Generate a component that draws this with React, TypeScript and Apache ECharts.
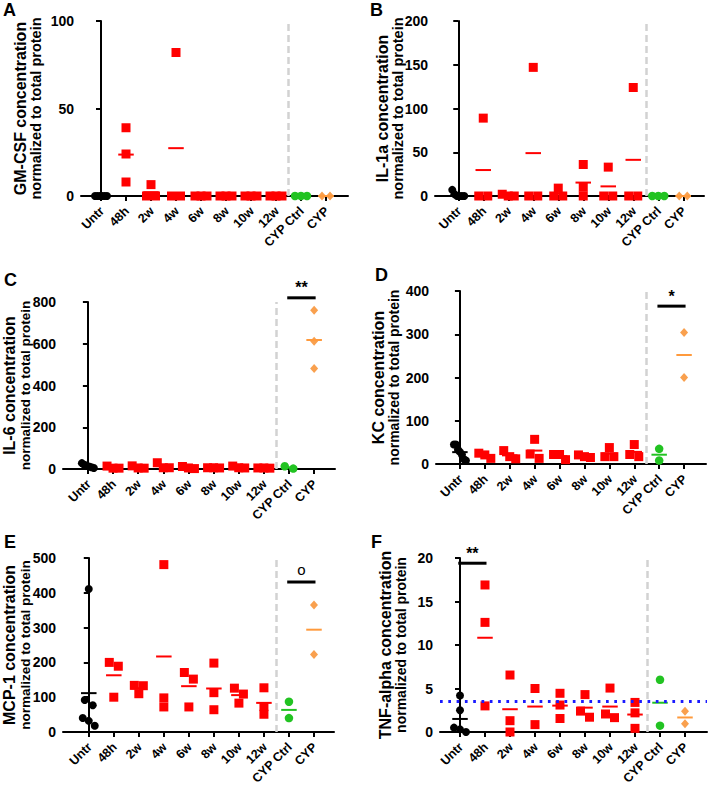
import React, { useEffect, useRef } from 'react';
import * as echarts from 'echarts';

const categories = ['Untr', '48h', '2w', '4w', '6w', '8w', '10w', '12w', 'CYP Ctrl', 'CYP'];

// Panel A: GM-CSF
const gmcsfValues = [
  [0, 0, 0, 0, 0, 0],
  [39, 24, 8],
  [6.5, 0, 0],
  [82, 0, 0],
  [0, 0, 0],
  [0, 0, 0],
  [0, 0, 0],
  [0, 0, 0],
  [0, 0, 0],
  [0, 0],
];
// Panel B: IL-1a
const il1aValues = [
  [7, 2, 0, 0, 0, 0],
  [89, 0, 0],
  [2, 0, 0],
  [147, 0, 0],
  [9, 0, 0],
  [36, 10, 0],
  [33, 0, 0],
  [124, 0, 0],
  [0, 0, 0],
  [0, 0],
];
// Panel C: IL-6
const il6Values = [
  [28, 20, 15, 12, 8, 5],
  [14, 4, 4],
  [15, 4, 5],
  [30, 6, 6],
  [12, 5, 2],
  [6, 6, 5],
  [14, 5, 6],
  [5, 5, 4],
  [2, 13],
  [760, 612, 482],
];
// Panel D: KC
const kcValues = [
  [45, 45, 33, 28, 22, 11, 8],
  [25, 13, 21],
  [31, 12, 17],
  [57, 13, 23],
  [10, 22, 22],
  [15, 21, 17],
  [38, 17, 17],
  [45, 17, 22],
  [35, 8],
  [304, 200],
];
// Panel E: MCP-1
const mcp1Values = [
  [411, 92, 77, 40, 32, 18],
  [200, 189, 100],
  [134, 133, 110],
  [481, 98, 72],
  [171, 152, 72],
  [198, 113, 64],
  [126, 109, 83],
  [127, 73, 51],
  [87, 40],
  [365, 223],
];
// Panel F: TNF-alpha
const tnfValues = [
  [4.2, 2.5, 0.5, 0.3, 0.0],
  [16.9, 12.6, 3.0],
  [6.55, 1.3, 0],
  [5.0, 0.85],
  [4.45, 3.1, 1.55],
  [4.3, 2.4, 1.7],
  [5.05, 2.07, 1.65],
  [3.4, 2.2, 0.42],
  [6.0, 0.73],
  [2.38, 0.96],
];
const tnfBaseline = 3.5;

// significance annotations: [first group, last group, level]
const sigIL6 = [[8, 9, 820]];
const sigIL6Marks = ['**'];
const sigKC = [[8, 9, 365]];
const sigKCMarks = ['*'];
const sigMCP1 = [[8, 9, 431]];
const sigMCP1Marks = ['o'];
const sigTNF = [[0, 1, 19.4]];
const sigTNFMarks = ['**'];

const FONT = '"Liberation Sans", Arial, Helvetica, sans-serif';

const colorFor = (g: number) => (g === 0 ? '#000000' : g === 8 ? '#22c322' : g === 9 ? '#f9a04e' : '#ff0000');
const meanColorFor = (g: number) => (g === 9 ? '#ff9a3c' : colorFor(g));
const symbolFor = (g: number) => (g === 0 || g === 8 ? 'circle' : g === 9 ? 'diamond' : 'rect');
const sizeFor = (g: number) => (g === 0 ? 8 : g === 8 ? 8.5 : g === 9 ? 8 : 9);

const panels = [
  {
    letter: 'A', line1: 'GM-CSF concentration', values: gmcsfValues,
    yMax: 100, yInterval: 50, grid: { left: 81, top: 21, width: 267, height: 175 }, xMin: -0.8, xMax: 9.88,
    nameGap: 37, size2: 14.5, letterPos: [3, 1], sig: [] as number[][], sigMarks: [] as string[], baseline: null as number | null,
  },
  {
    letter: 'B', line1: 'IL-1a concentration', values: il1aValues,
    yMax: 200, yInterval: 50, grid: { left: 435, top: 21, width: 269, height: 175 }, xMin: -0.93, xMax: 9.83,
    nameGap: 29, size2: 14.5, letterPos: [370, 1], sig: [], sigMarks: [], baseline: null,
  },
  {
    letter: 'C', line1: 'IL-6 concentration', values: il6Values,
    yMax: 800, yInterval: 200, grid: { left: 63, top: 302, width: 272, height: 167 }, xMin: -0.99, xMax: 9.83,
    nameGap: 30, size2: 13.5, letterPos: [4, 271], sig: sigIL6, sigMarks: sigIL6Marks, baseline: null,
  },
  {
    letter: 'D', line1: 'KC concentration', values: kcValues,
    yMax: 400, yInterval: 100, grid: { left: 436, top: 291, width: 270, height: 173 }, xMin: -0.96, xMax: 9.88,
    nameGap: 34, size2: 14, letterPos: [375, 266], sig: sigKC, sigMarks: sigKCMarks, baseline: null,
  },
  {
    letter: 'E', line1: 'MCP-1 concentration', values: mcp1Values,
    yMax: 500, yInterval: 100, grid: { left: 63, top: 558, width: 271, height: 174 }, xMin: -1.03, xMax: 9.8,
    nameGap: 30, size2: 13.5, letterPos: [4, 533], sig: sigMCP1, sigMarks: sigMCP1Marks, baseline: null,
  },
  {
    letter: 'F', line1: 'TNF-alpha concentration', values: tnfValues,
    yMax: 20, yInterval: 5, grid: { left: 440, top: 558, width: 267, height: 174 }, xMin: -0.8, xMax: 9.88,
    nameGap: 31, size2: 14, letterPos: [371, 533], sig: sigTNF, sigMarks: sigTNFMarks, baseline: tnfBaseline,
  },
];
const line2 = 'normalized to total protein';

// spread points that would overlap (GraphPad-like scatter dot layout)
function spreadOffsets(vals: number[], pxPerY: number, pxPerX: number, d: number, maxOffPx: number) {
  const idx = vals.map((_, i) => i).sort((a, b) => vals[b] - vals[a]);
  const offs = new Array(vals.length).fill(0);
  const clusters: number[][] = [];
  let cur: number[] = [];
  idx.forEach((i, k) => {
    if (k > 0 && (vals[idx[k - 1]] - vals[i]) * pxPerY > 0.75 * d) {
      clusters.push(cur);
      cur = [];
    }
    cur.push(i);
  });
  if (cur.length) clusters.push(cur);
  clusters.forEach((c) => {
    const n = c.length;
    if (n < 2) return;
    const sp = Math.min(d, (2 * maxOffPx) / (n - 1));
    c.forEach((i, k) => {
      offs[i] = ((k - (n - 1) / 2) * sp) / pxPerX;
    });
  });
  return offs;
}

function buildOption() {
  const grid: any[] = [];
  const xAxis: any[] = [];
  const yAxis: any[] = [];
  const series: any[] = [];
  const title: any[] = [];

  panels.forEach((p, pi) => {
    grid.push({ ...p.grid, outerBoundsMode: 'none', containLabel: false });
    const pxPerX = p.grid.width / (p.xMax - p.xMin);
    const pxPerY = p.grid.height / p.yMax;
    const ticks = categories.map((_, i) => i);
    xAxis.push({
      type: 'value', gridIndex: pi, min: p.xMin, max: p.xMax,
      axisLine: { show: true, onZero: false, lineStyle: { color: '#000', width: 2 } },
      axisTick: { show: true, customValues: ticks, length: 5, lineStyle: { color: '#000', width: 2 } },
      axisLabel: { show: false },
      splitLine: { show: false },
    });
    yAxis.push({
      type: 'value', gridIndex: pi, min: 0, max: p.yMax, interval: p.yInterval,
      axisLine: { show: true, lineStyle: { color: '#000', width: 2 } },
      axisTick: { show: true, length: 5, lineStyle: { color: '#000', width: 2 } },
      axisLabel: { color: '#000', fontWeight: 'bold', fontSize: 14, margin: 7, fontFamily: FONT },
      splitLine: { show: false },
      name: '{a|' + p.line1 + '}\n{b|' + line2 + '}',
      nameLocation: 'middle', nameRotate: 90, nameGap: p.nameGap, nameMoveOverlap: false,
      nameTextStyle: {
        color: '#000', fontWeight: 'bold', fontFamily: FONT,
        rich: {
          a: { fontSize: 16, fontWeight: 'bold', lineHeight: 16, color: '#000', fontFamily: FONT },
          b: { fontSize: p.size2, fontWeight: 'bold', lineHeight: 16, color: '#000', fontFamily: FONT },
        },
      },
    });
    title.push({
      text: p.letter, left: p.letterPos[0], top: p.letterPos[1], padding: 0,
      textStyle: { fontSize: 18, fontWeight: 'bold', color: '#000', fontFamily: FONT },
    });

    p.values.forEach((vals, g) => {
      const offs = spreadOffsets(vals, pxPerY, pxPerX, sizeFor(g), 6);
      const s: any = {
        type: 'scatter', xAxisIndex: pi, yAxisIndex: pi,
        symbol: symbolFor(g), symbolSize: g === 9 ? [8, 9] : sizeFor(g),
        itemStyle: { color: colorFor(g), opacity: 1 },
        data: vals.map((v, k) => [g + offs[k], v]),
        z: 2, silent: true,
      };
      if (g === 0) {
        const md: any[] = [{ xAxis: 7.5, lineStyle: { color: '#d2d2d2', width: 2.5, type: [7, 4] } }];
        if (p.baseline !== null) {
          md.push({ yAxis: p.baseline, lineStyle: { color: '#1a1aff', width: 3, type: [2.7, 5.6] } });
        }
        s.markLine = { silent: true, symbol: ['none', 'none'], label: { show: false }, data: md, animation: false };
      }
      series.push(s);
    });

    const means = p.values.map((vals, g) => [g, vals.reduce((a, b) => a + b, 0) / vals.length]);
    series.push({
      type: 'custom', xAxisIndex: pi, yAxisIndex: pi, z: 3, silent: true,
      data: means,
      renderItem: (params: any, api: any) => {
        const g = api.value(0);
        const a = api.coord([g - 0.31, api.value(1)]);
        const b = api.coord([g + 0.31, api.value(1)]);
        return {
          type: 'line',
          shape: { x1: a[0], y1: a[1], x2: b[0], y2: b[1] },
          style: { stroke: meanColorFor(g), lineWidth: 2 },
        };
      },
    });

    // rotated category labels under the axis ticks
    series.push({
      type: 'custom', xAxisIndex: pi, yAxisIndex: pi, z: 5, silent: true, clip: false,
      data: categories.map((_, i) => [i, 0]),
      renderItem: (params: any, api: any) => {
        const pt = api.coord([api.value(0), 0]);
        return {
          type: 'text',
          x: pt[0] + 1, y: pt[1] + 13, rotation: Math.PI / 4,
          style: {
            text: categories[params.dataIndex], x: 0, y: 0,
            align: 'right', verticalAlign: 'middle', textAlign: 'right', textVerticalAlign: 'middle',
            font: 'bold 12.5px ' + FONT, fill: '#000',
          },
        };
      },
    });

    if (p.sig.length) {
      series.push({
        type: 'custom', xAxisIndex: pi, yAxisIndex: pi, z: 4, silent: true, clip: false,
        data: p.sig,
        renderItem: (params: any, api: any) => {
          const a = api.coord([api.value(0) - 0.07, api.value(2)]);
          const b = api.coord([api.value(1) + 0.06, api.value(2)]);
          const mark = p.sigMarks[params.dataIndex];
          const isO = mark === 'o';
          return {
            type: 'group',
            children: [
              { type: 'line', shape: { x1: a[0], y1: a[1], x2: b[0], y2: b[1] }, style: { stroke: '#000', lineWidth: 3 } },
              {
                type: 'text',
                style: {
                  text: mark, x: (a[0] + b[0]) / 2, y: a[1] - (isO ? 5 : 2),
                  align: 'center', verticalAlign: 'bottom', textAlign: 'center', textVerticalAlign: 'bottom',
                  font: (isO ? 'normal 15px ' : 'bold 16px ') + FONT, fill: '#000',
                },
              },
            ],
          };
        },
      });
    }
  });

  return {
    animation: false,
    backgroundColor: '#ffffff',
    textStyle: { fontFamily: FONT },
    title, grid, xAxis, yAxis, series,
  };
}

export default function App() {
  const ref = useRef<HTMLDivElement>(null);
  useEffect(() => {
    document.body.style.margin = '0';
    if (!ref.current) return;
    const chart = echarts.init(ref.current, undefined, { renderer: 'svg' });
    chart.setOption(buildOption() as any);
    return () => chart.dispose();
  }, []);
  return <div ref={ref} style={{ width: 708, height: 787 }} />;
}
